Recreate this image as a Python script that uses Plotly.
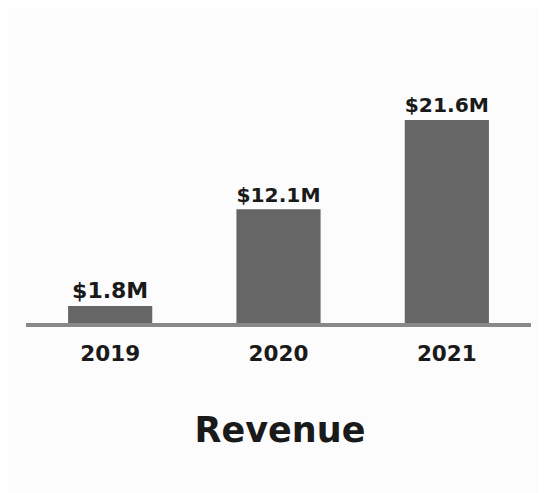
import plotly.graph_objects as go

years = ["2019", "2020", "2021"]
revenue = [1.8, 12.1, 21.6]
labels = ["$1.8M", "$12.1M", "$21.6M"]

fig = go.Figure(go.Bar(
    x=years, y=revenue, text=labels, textposition="outside",
    marker=dict(color="#666666", line=dict(width=0)),
    width=0.5, cliponaxis=False,
    texttemplate="<b>%{text}</b>",
    textfont=dict(family="DejaVu Sans", size=22, color="#1a1a1a"),
))

fig.update_layout(
    width=537, height=485,
    margin=dict(l=18, r=14, t=72, b=170),
    paper_bgcolor="#fcfcfc", plot_bgcolor="#fcfcfc",
    showlegend=False,
    font=dict(family="DejaVu Sans", color="#1a1a1a"),
    title=dict(text="<b>Revenue</b>", x=272 / 537, xanchor="center",
               y=1 - 422 / 485, yanchor="middle", yref="container",
               font=dict(size=35, family="DejaVu Sans", color="#1a1a1a")),
    xaxis=dict(range=[-0.5, 2.5], showline=True, linecolor="#888888", linewidth=3.5,
               ticks="outside", ticklen=8, tickcolor="rgba(0,0,0,0)",
               tickprefix="<b>", ticksuffix="</b>",
               tickfont=dict(size=21.5, family="DejaVu Sans", color="#1a1a1a"),
               showgrid=False, zeroline=False),
    yaxis=dict(range=[0, 25.85], visible=False, showgrid=False, zeroline=False),
)
fig.write_html("out.html")
